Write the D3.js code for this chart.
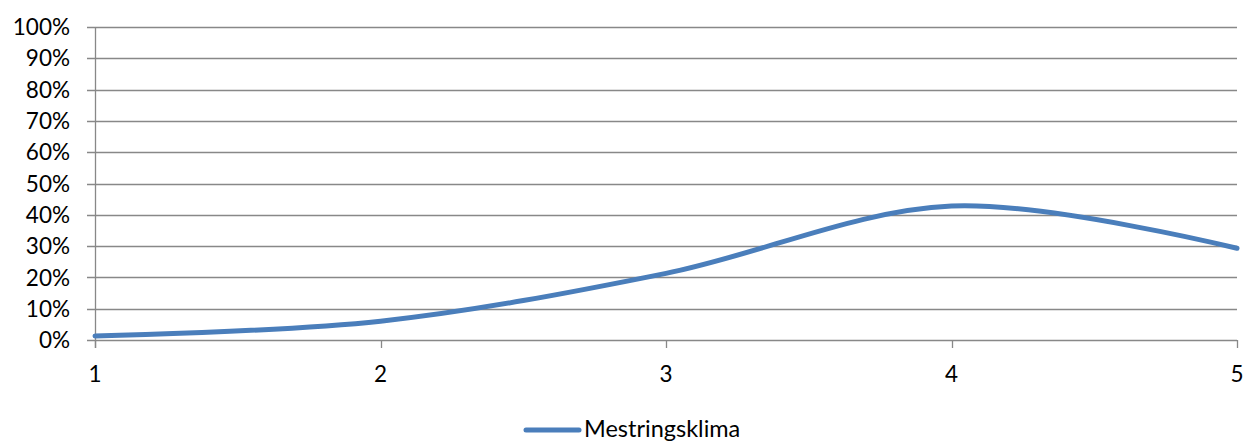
<!DOCTYPE html>
<html><head><meta charset="utf-8">
<script src="https://cdn.jsdelivr.net/npm/d3@7"></script>
<style>body{margin:0;background:#fff}svg{display:block}text{font-family:Lato,"Open Sans",sans-serif;fill:#000}</style>
</head><body><svg id="c" width="1246" height="443"></svg>
<script>
const categories = [1, 2, 3, 4, 5];
const seriesName = "Mestringsklima";
const values = [0.013, 0.06, 0.213, 0.428, 0.293];
const yTicks = [0, 0.1, 0.2, 0.3, 0.4, 0.5, 0.6, 0.7, 0.8, 0.9, 1.0];

const svg = d3.select("#c");
const L = 95, R = 1237, T = 27, B = 340;
const x = d3.scaleLinear().domain([1, 5]).range([L, R]);
const y = d3.scaleLinear().domain([0, 1]).range([B, T]);
const grid = "#888";

svg.append("g").selectAll("line").data(yTicks).join("line")
  .attr("x1", L - 8).attr("x2", R).attr("y1", d => Math.round(y(d)) + 0.5).attr("y2", d => Math.round(y(d)) + 0.5)
  .attr("stroke", grid).attr("stroke-width", 1.3);
svg.append("line").attr("x1", L + 0.5).attr("x2", L + 0.5).attr("y1", T).attr("y2", B + 8)
  .attr("stroke", grid).attr("stroke-width", 1.3);
svg.append("g").selectAll("line").data(categories).join("line")
  .attr("x1", d => Math.round(x(d)) + 0.5).attr("x2", d => Math.round(x(d)) + 0.5)
  .attr("y1", B).attr("y2", B + 8).attr("stroke", grid).attr("stroke-width", 1.3);

svg.append("g").selectAll("text").data(yTicks).join("text")
  .attr("x", 70).attr("y", d => y(d)).attr("dy", "0.36em").attr("text-anchor", "end")
  .style("font-size", "22.5px").text(d => Math.round(d * 100) + "%");
svg.append("g").selectAll("text").data(categories).join("text")
  .attr("x", d => x(d)).attr("y", 382).attr("text-anchor", "middle")
  .style("font-size", "22.5px").text(d => d);

const line = d3.line().x((d, i) => x(categories[i])).y(d => y(d)).curve(d3.curveCardinal.tension(0));
svg.append("path").datum(values).attr("d", line).attr("fill", "none")
  .attr("stroke", "#4A7EBB").attr("stroke-width", 5).attr("stroke-linecap", "round");

svg.append("line").attr("x1", 526).attr("x2", 579).attr("y1", 430).attr("y2", 430)
  .attr("stroke", "#4A7EBB").attr("stroke-width", 5).attr("stroke-linecap", "round");
svg.append("text").attr("x", 584).attr("y", 437).style("font-size", "23.5px").text(seriesName);
</script></body></html>
